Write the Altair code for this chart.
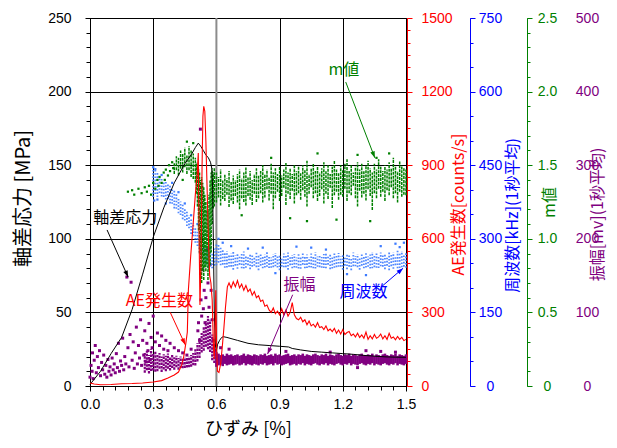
import math
import altair as alt
import pandas as pd

# ---------------- fonts / colours ----------------
FONT_NUM = "Liberation Sans"
FONT_JP = "Noto Sans CJK JP"
BLACK = "#000000"
RED = "#ff0000"
BLUE = "#0000ff"
BLUE_PT = "#3d7bff"
GREEN = "#008000"
PURPLE = "#800080"

# ---------------- axes ticks ----------------
x_ticks = [0.0, 0.3, 0.6, 0.9, 1.2, 1.5]
x_minor = [0.0, 0.06, 0.12, 0.18, 0.24, 0.30, 0.36, 0.42, 0.48, 0.54, 0.60, 0.66, 0.72,
           0.78, 0.84, 0.90, 0.96, 1.02, 1.08, 1.14, 1.20, 1.26, 1.32, 1.38, 1.44, 1.50]
stress_ticks = [0, 50, 100, 150, 200, 250]
stress_minor = list(range(0, 251, 10))
ae_ticks = [0, 300, 600, 900, 1200, 1500]
ae_minor = list(range(0, 1501, 50))
freq_ticks = [0, 150, 300, 450, 600, 750]
freq_minor = list(range(0, 751, 50))
m_ticks = [0, 0.5, 1.0, 1.5, 2.0, 2.5]
m_minor = [0, 0.1, 0.2, 0.3, 0.4, 0.5, 0.6, 0.7, 0.8, 0.9, 1.0, 1.1, 1.2, 1.3, 1.4, 1.5,
           1.6, 1.7, 1.8, 1.9, 2.0, 2.1, 2.2, 2.3, 2.4, 2.5]
amp_ticks = [0, 100, 200, 300, 400, 500]

# ---------------- stress (black line) ----------------
stress_s = [0.0, 0.05, 0.10, 0.15, 0.20, 0.25, 0.30, 0.35, 0.40, 0.45, 0.48, 0.50, 0.514, 0.525,
            0.538, 0.55, 0.562, 0.572, 0.578, 0.582, 0.586, 0.59, 0.595, 0.60, 0.605, 0.615, 0.625,
            0.633, 0.65, 0.70, 0.75, 0.80, 0.85, 0.90, 0.943, 0.96, 1.00, 1.05, 1.10, 1.15, 1.20,
            1.25, 1.30, 1.35, 1.40, 1.45, 1.50]
stress_v = [1, 10, 22, 33, 52, 76, 101, 121, 138, 151, 157, 162, 165, 163,
            160, 157, 155, 152, 148, 135, 95, 50, 28, 24, 28, 31, 33,
            33.5, 33, 31, 29, 28, 27.5, 27, 26.5, 25.5, 24.5, 23.5, 23, 22.5, 22,
            21.5, 20.8, 20.3, 19.8, 19.6, 19.5]

# ---------------- AE counts (red line) ----------------
ae_head_s = [0.0, 0.02, 0.05, 0.10, 0.15, 0.20, 0.25, 0.30, 0.34, 0.37, 0.40, 0.42, 0.435, 0.445,
             0.455, 0.462, 0.467, 0.478, 0.49, 0.50, 0.509, 0.514, 0.518, 0.522, 0.527, 0.532,
             0.536, 0.54, 0.545, 0.55, 0.556, 0.562, 0.568, 0.574, 0.58, 0.586, 0.59, 0.594,
             0.597, 0.601, 0.605, 0.612, 0.62, 0.628, 0.635, 0.643, 0.652, 0.66]
ae_head_v = [12, 8, 5, 6, 9, 10, 12, 16, 22, 33, 45, 57, 85, 120,
             175, 220, 391, 530, 664, 780, 868, 950, 600, 330, 500, 900,
             1100, 1140, 1120, 1000, 800, 600, 450, 420, 350, 160, 110, 250,
             390, 150, 60, 55, 90, 160, 230, 320, 404, 420]
# values every 0.01 % from 0.67 to 1.50
ae_tail_v = [400, 425, 405, 430, 400, 415, 390, 410, 385, 395,
             370, 385, 360, 368, 345, 350, 325, 330, 310, 300,
             318, 295, 305, 290, 315, 290, 310, 285, 300, 340,
             290, 275, 270, 280, 262, 270, 250, 265, 245, 252,
             240, 258, 238, 242, 230, 245, 225, 232, 222, 235,
             215, 228, 212, 230, 210, 218, 222, 205, 212, 200,
             215, 198, 208, 195, 220, 190, 205, 192, 210, 195,
             200, 212, 192, 205, 190, 215, 195, 200, 188, 202,
             190, 198, 185, 190]
ae_tail_s = [round(0.67 + 0.01 * i, 2) for i in range(len(ae_tail_v))]

# ---------------- frequency (blue scatter: spread per strain step) ----------------
blue_pre_s = [0.30, 0.31, 0.32, 0.33, 0.34, 0.35, 0.36, 0.37, 0.38, 0.39,
              0.40, 0.41, 0.42, 0.43, 0.44, 0.45, 0.46, 0.47, 0.48, 0.49,
              0.50, 0.51, 0.52, 0.53, 0.54, 0.55, 0.56, 0.57, 0.58, 0.59]
blue_pre_lo = [385, 388, 385, 390, 386, 382, 380, 378, 372, 368,
               362, 358, 352, 345, 340, 334, 326, 318, 310, 302,
               292, 282, 272, 262, 252, 245, 242, 240, 240, 242]
blue_pre_hi = [446, 440, 435, 428, 422, 418, 416, 412, 408, 404,
               398, 392, 384, 376, 370, 362, 356, 348, 340, 332,
               324, 316, 306, 298, 290, 282, 276, 272, 270, 280]
# after 0.60 %, every 0.01 %
blue_post_lo = [246, 248, 246, 244, 241, 238, 243, 240, 237, 242,
                239, 244, 240, 236, 241, 243, 238, 240, 245, 239,
                236, 242, 240, 238, 243, 237, 241, 239, 244, 238,
                236, 240, 242, 239, 237, 243, 240, 238, 241, 236,
                239, 244, 240, 237, 242, 238, 240, 236, 243, 239,
                241, 237, 240, 244, 238, 236, 241, 239, 243, 240,
                237, 242, 238, 240, 236, 241, 244, 239, 237, 242,
                240, 238, 243, 236, 240, 239, 241, 237, 244, 240,
                238, 242, 236, 241, 239, 243, 240, 237, 242, 240,
                241]
blue_post_hi = [290, 288, 282, 278, 272, 275, 268, 270, 273, 266,
                271, 265, 269, 274, 267, 263, 270, 268, 264, 272,
                266, 270, 263, 268, 273, 265, 262, 269, 271, 264,
                268, 262, 270, 265, 272, 263, 267, 269, 262, 270,
                265, 271, 264, 268, 262, 270, 266, 273, 264, 268,
                263, 269, 272, 265, 268, 262, 270, 266, 271, 264,
                268, 263, 270, 266, 262, 272, 265, 269, 263, 270,
                266, 271, 264, 268, 273, 265, 270, 263, 272, 267,
                270, 265, 274, 268, 272, 266, 277, 270, 275, 268,
                272]
blue_points = [(0.30, 446), (0.305, 378), (0.31, 442), (0.32, 380), (0.34, 430), (0.36, 372),
               (0.39, 414), (0.42, 395), (0.45, 372), (0.48, 348), (0.51, 330), (0.53, 305),
               (0.55, 300), (0.57, 282), (0.61, 300), (0.63, 292), (0.67, 285), (0.75, 280),
               (0.82, 282), (0.88, 230), (0.98, 284), (1.05, 282), (1.12, 278), (1.22, 228),
               (1.31, 226), (1.38, 285), (1.45, 290), (1.47, 283), (1.49, 292)]

# ---------------- m value (green scatter) ----------------
green_pre_s = [0.40, 0.41, 0.42, 0.43, 0.44, 0.45, 0.46, 0.47, 0.48, 0.49, 0.50, 0.505, 0.51,
               0.515, 0.52, 0.525, 0.53, 0.535, 0.54, 0.545, 0.55, 0.555, 0.56, 0.565, 0.57,
               0.575, 0.58, 0.585, 0.59]
green_pre_lo = [1.44, 1.46, 1.43, 1.47, 1.45, 1.48, 1.44, 1.46, 1.42, 1.40, 1.38, 1.30, 1.22,
                1.05, 0.90, 0.75, 0.70, 0.78, 0.72, 0.80, 0.78, 0.82, 0.72, 0.78, 0.82,
                0.90, 1.10, 1.20, 1.22]
green_pre_hi = [1.52, 1.56, 1.55, 1.60, 1.58, 1.62, 1.57, 1.63, 1.60, 1.58, 1.55, 1.52, 1.50,
                1.48, 1.45, 1.40, 1.42, 1.38, 1.35, 1.30, 1.25, 1.20, 1.20, 1.30, 1.40,
                1.45, 1.48, 1.45, 1.48]
green_post_lo = [1.24, 1.28, 1.22, 1.27, 1.25, 1.30, 1.21, 1.26, 1.23, 1.29,
                 1.24, 1.20, 1.27, 1.25, 1.22, 1.29, 1.26, 1.23, 1.30, 1.25,
                 1.27, 1.31, 1.24, 1.28, 1.33, 1.26, 1.30, 1.20, 1.27, 1.32,
                 1.25, 1.29, 1.34, 1.23, 1.30, 1.27, 1.32, 1.24, 1.29, 1.31,
                 1.26, 1.33, 1.28, 1.22, 1.30, 1.35, 1.27, 1.31, 1.25, 1.29,
                 1.33, 1.24, 1.30, 1.27, 1.34, 1.21, 1.29, 1.32, 1.26, 1.30,
                 1.28, 1.34, 1.25, 1.31, 1.29, 1.36, 1.27, 1.22, 1.32, 1.28,
                 1.30, 1.26, 1.33, 1.29, 1.19, 1.31, 1.27, 1.34, 1.28, 1.32,
                 1.25, 1.33, 1.29, 1.35, 1.27, 1.31, 1.24, 1.32, 1.28, 1.30,
                 1.29]
green_post_hi = [1.45, 1.42, 1.47, 1.40, 1.44, 1.41, 1.46, 1.39, 1.43, 1.40,
                 1.44, 1.47, 1.41, 1.45, 1.49, 1.42, 1.46, 1.40, 1.44, 1.48,
                 1.43, 1.46, 1.50, 1.44, 1.47, 1.42, 1.51, 1.45, 1.48, 1.44,
                 1.49, 1.43, 1.47, 1.52, 1.45, 1.48, 1.44, 1.50, 1.46, 1.49,
                 1.45, 1.50, 1.47, 1.53, 1.44, 1.48, 1.51, 1.46, 1.49, 1.45,
                 1.48, 1.52, 1.46, 1.50, 1.44, 1.49, 1.53, 1.47, 1.45, 1.50,
                 1.47, 1.51, 1.54, 1.46, 1.50, 1.45, 1.49, 1.52, 1.47, 1.51,
                 1.46, 1.50, 1.53, 1.48, 1.45, 1.51, 1.47, 1.54, 1.49, 1.46,
                 1.50, 1.47, 1.52, 1.48, 1.55, 1.49, 1.46, 1.53, 1.50, 1.48,
                 1.47]
green_points = [(0.18, 1.32), (0.20, 1.33), (0.21, 1.30), (0.23, 1.34), (0.245, 1.31), (0.26, 1.35),
                (0.27, 1.32), (0.28, 1.36), (0.29, 1.30), (0.30, 1.38), (0.31, 1.34), (0.32, 1.40),
                (0.325, 1.36), (0.33, 1.42), (0.34, 1.38), (0.35, 1.45), (0.355, 1.40), (0.36, 1.47),
                (0.37, 1.43), (0.375, 1.50), (0.38, 1.46), (0.39, 1.52), (0.395, 1.48), (0.44, 1.40),
                (0.46, 1.66), (0.49, 1.65), (0.72, 1.16), (0.86, 1.55), (0.95, 1.14), (1.03, 1.12),
                (1.08, 1.58), (1.17, 1.13), (1.27, 1.57), (1.33, 1.12), (1.36, 1.55), (1.42, 1.58)]

# ---------------- amplitude (purple scatter) ----------------
purple_pre_s = [0.26, 0.27, 0.28, 0.29, 0.30, 0.31, 0.32, 0.33, 0.34, 0.35,
                0.36, 0.37, 0.38, 0.39, 0.40, 0.41, 0.42, 0.43, 0.44, 0.45,
                0.46, 0.47, 0.48, 0.49, 0.50, 0.51, 0.52, 0.53, 0.54, 0.55,
                0.56, 0.57, 0.58, 0.59]
purple_pre_lo = [18, 20, 17, 19, 21, 18, 20, 22, 19, 21,
                 20, 22, 21, 23, 22, 24, 22, 23, 24, 23,
                 25, 24, 26, 27, 28, 32, 38, 44, 48, 52,
                 50, 45, 35, 30]
purple_pre_hi = [45, 48, 42, 50, 44, 47, 42, 45, 40, 43,
                 41, 44, 40, 42, 39, 41, 38, 40, 38, 39,
                 38, 40, 42, 45, 50, 58, 66, 72, 80, 88,
                 95, 90, 70, 50]
purple_post_lo = [26, 28, 29, 27, 30, 28, 29, 30, 28, 29,
                  30, 28, 29, 31, 28, 30, 29, 28, 30, 29,
                  28, 30, 29, 31, 28, 29, 30, 28, 31, 29,
                  30, 28, 29, 30, 31, 28, 29, 30, 28, 30,
                  29, 31, 28, 30, 29, 28, 30, 31, 29, 28,
                  30, 29, 31, 28, 30, 29, 28, 30, 31, 29,
                  28, 30, 29, 31, 28, 30, 29, 28, 30, 31,
                  29, 28, 30, 29, 31, 28, 30, 29, 28, 30,
                  31, 29, 28, 30, 29, 31, 28, 30, 29, 28,
                  30]
purple_post_hi = [46, 44, 42, 43, 41, 44, 42, 43, 41, 42,
                  43, 41, 42, 44, 41, 43, 42, 41, 43, 42,
                  41, 43, 42, 44, 41, 42, 43, 41, 44, 42,
                  43, 41, 42, 43, 44, 41, 42, 43, 41, 43,
                  42, 44, 41, 43, 42, 41, 43, 44, 42, 41,
                  43, 42, 44, 41, 43, 42, 41, 43, 44, 42,
                  41, 43, 42, 44, 41, 43, 42, 41, 43, 44,
                  42, 41, 43, 42, 44, 41, 43, 42, 41, 43,
                  44, 42, 41, 43, 42, 44, 41, 43, 42, 41,
                  43]
purple_points = [(0.00, 12), (0.005, 28), (0.01, 20), (0.012, 45), (0.015, 10), (0.02, 35), (0.025, 55),
                 (0.03, 18), (0.035, 40), (0.04, 25), (0.045, 48), (0.05, 14), (0.055, 32), (0.06, 22),
                 (0.065, 42), (0.07, 16), (0.075, 28), (0.08, 12), (0.085, 36), (0.09, 20), (0.095, 26),
                 (0.10, 15), (0.105, 38), (0.11, 22), (0.115, 30), (0.12, 18), (0.125, 44), (0.13, 25),
                 (0.135, 58), (0.14, 20), (0.145, 34), (0.15, 28), (0.155, 65), (0.16, 22), (0.165, 40),
                 (0.17, 30), (0.175, 148), (0.18, 52), (0.185, 26), (0.19, 70), (0.195, 141), (0.20, 35),
                 (0.205, 60), (0.21, 24), (0.215, 45), (0.22, 80), (0.225, 30), (0.23, 55), (0.235, 38),
                 (0.24, 90), (0.245, 28), (0.25, 62), (0.255, 42), (0.26, 75), (0.265, 33), (0.27, 58),
                 (0.275, 48), (0.28, 85), (0.285, 36), (0.29, 66), (0.295, 52), (0.30, 95), (0.31, 60),
                 (0.32, 72), (0.33, 55), (0.34, 68), (0.35, 50), (0.36, 62), (0.37, 48), (0.38, 58),
                 (0.40, 52), (0.42, 48), (0.44, 45), (0.46, 42), (0.48, 50),
                 (0.512, 75), (0.515, 86), (0.52, 62), (0.524, 349), (0.527, 117), (0.53, 95),
                 (0.535, 158), (0.538, 105), (0.542, 130), (0.546, 86), (0.55, 120), (0.555, 185),
                 (0.56, 140), (0.565, 107), (0.57, 165), (0.575, 130), (0.58, 90), (0.585, 62),
                 (0.59, 55), (0.595, 48), (0.62, 52), (0.66, 50), (0.93, 47), (1.14, 46),
                 (1.27, 25), (1.31, 48), (1.38, 47), (1.45, 46)]

# ---------------- annotations (in stress-axis units) ----------------
notes = [("軸差応力", 0.167, 114, BLACK), ("AE発生数", 0.329, 58, RED),
         ("振幅", 0.995, 68.6, PURPLE), ("周波数", 1.298, 64, BLUE), ("m値", 1.205, 214.7, GREEN)]
arrows = [(0.081, 106, 0.181, 74, BLACK), (0.381, 50, 0.452, 28, RED),
          (0.962, 62, 0.843, 21.7, PURPLE), (1.38, 67, 1.486, 80, BLUE),
          (1.214, 206.5, 1.352, 155, GREEN)]

# ---------------- geometry ----------------
W, H = 316, 368
post_s = [round(0.60 + 0.01 * i, 2) for i in range(len(blue_post_lo))]


def X(field="s", axis=None):
    return alt.X(f"{field}:Q", scale=alt.Scale(domain=[0, 1.5], nice=False, zero=False), axis=axis)


def Y(field, dom, axis=None):
    return alt.Y(f"{field}:Q", scale=alt.Scale(domain=dom, nice=False, zero=False), axis=axis)


def right_axis(values, color, offset, title, title_x, title_y, pad, align,
               tick=5, show_domain=True, label_expr=None, fmt=None):
    kw = dict(orient="right", values=values, offset=offset, grid=False,
              domain=show_domain, domainColor=color, domainWidth=1,
              ticks=tick > 0, tickColor=color, tickSize=tick,
              labelColor=color, labelFont=FONT_NUM, labelFontSize=14, labelPadding=pad,
              labelAlign=align, labelBaseline="middle", labelFlush=False, labelOverlap=False,
              title=title, titleFont=FONT_JP, titleFontSize=16, titleFontWeight="normal",
              titleColor=color, titleAngle=270, titleAlign="center", titleBaseline="middle",
              titleX=title_x, titleY=title_y)
    if label_expr:
        kw["labelExpr"] = label_expr
    if fmt:
        kw["format"] = fmt
    return alt.Axis(**kw)


def minor_axis(orient, values, color, offset=0, size=3):
    return alt.Axis(orient=orient, values=values, offset=offset, grid=False, domain=False,
                    labels=False, ticks=True, tickColor=color, tickSize=size, title=None)


ax_x = alt.Axis(orient="bottom", values=x_ticks, format=".1f", grid=True, gridColor=BLACK,
                gridOpacity=1, gridWidth=1, domainColor=BLACK, tickColor=BLACK, tickSize=5,
                labelColor=BLACK, labelFont=FONT_NUM, labelFontSize=14, labelPadding=6,
                labelFlush=False, labelOverlap=False, title="ひずみ [%]", titleFont=FONT_JP,
                titleFontSize=18, titleFontWeight="normal", titleColor=BLACK,
                titleBaseline="middle", titleY=43)
ax_stress = alt.Axis(orient="left", values=stress_ticks, grid=True, gridColor=BLACK,
                     gridOpacity=1, gridWidth=1, domainColor=BLACK, tickColor=BLACK,
                     tickSize=5, labelColor=BLACK, labelFont=FONT_NUM, labelFontSize=14,
                     labelPadding=14, labelFlush=False, labelOverlap=False,
                     title="軸差応力 [MPa]", titleFont=FONT_JP, titleFontSize=20,
                     titleFontWeight="normal", titleColor=BLACK, titleAngle=270,
                     titleAlign="center", titleBaseline="middle", titleX=-67, titleY=180)
ax_ae = right_axis(ae_ticks, RED, 1, "AE発生数[counts/s]", 51, 186, 9, "left", fmt="d")
ax_freq = right_axis(freq_ticks, BLUE, 64, "周波数[kHz](1秒平均)", 42, 197, 15, "center", fmt="d")
ax_m = right_axis(m_ticks, GREEN, 121, "m値", 22, 184, 15, "center",
                  label_expr="datum.value == 0 ? '0' : format(datum.value, '.1f')")
ax_amp = right_axis(amp_ticks, PURPLE, 159, "振幅[mv](1秒平均)", 32, 196, 22, "center",
                    tick=0, show_domain=False, fmt="d")

dummy = pd.DataFrame({"s": [0.0], "v": [0.0]})


def tick_layer(dom, yaxis=None, xaxis=None):
    return alt.Chart(dummy).mark_point(opacity=0).encode(x=X("s", xaxis), y=Y("v", dom, yaxis))


def band_layers(df, dom, axis, color, width, dash, opacity):
    """Scatter clouds drawn as short dotted vertical strokes, alternate columns offset."""
    even = df.iloc[::2]
    odd = df.iloc[1::2]
    out = []
    for k, part in enumerate((even, odd)):
        mk = dict(color=color, strokeWidth=width, opacity=opacity)
        if dash:
            mk["strokeDash"] = dash
            mk["strokeDashOffset"] = 0 if k == 0 else dash[0]
        out.append(alt.Chart(part).mark_rule(**mk)
                   .encode(x=X("s"), y=Y("lo", dom, axis if k == 0 else None),
                           y2=alt.Y2("hi:Q")))
    return out


layers = []

# grey vertical line at 0.6
layers.append(alt.Chart(pd.DataFrame({"s": [0.6]})).mark_rule(color="#8c8c8c", strokeWidth=2)
              .encode(x=X("s")))

# minor ticks
layers.append(tick_layer([0, 250], xaxis=minor_axis("bottom", x_minor, BLACK, size=4)))
layers.append(tick_layer([0, 250], yaxis=minor_axis("left", stress_minor, BLACK, size=4)))
layers.append(tick_layer([0, 1500], yaxis=minor_axis("right", ae_minor, RED, offset=1, size=3)))
layers.append(tick_layer([0, 750], yaxis=minor_axis("right", freq_minor, BLUE, offset=64, size=3)))
layers.append(tick_layer([0, 2.5], yaxis=minor_axis("right", m_minor, GREEN, offset=121, size=3)))

# purple amplitude
purple_pre = pd.DataFrame({"s": purple_pre_s, "lo": purple_pre_lo, "hi": purple_pre_hi})
purple_post = pd.DataFrame({"s": post_s, "lo": purple_post_lo, "hi": purple_post_hi})
layers += band_layers(purple_pre, [0, 500], ax_amp, PURPLE, 2.2, [2.5, 1.0], 1)
layers += band_layers(purple_post, [0, 500], None, PURPLE, 2.6, None, 1)
layers.append(alt.Chart(pd.DataFrame(purple_points, columns=["s", "v"]))
              .mark_square(color=PURPLE, size=9, opacity=1)
              .encode(x=X("s"), y=Y("v", [0, 500])))

# blue frequency
blue_band = pd.DataFrame({"s": blue_pre_s + post_s,
                          "lo": blue_pre_lo + blue_post_lo,
                          "hi": blue_pre_hi + blue_post_hi})
layers += band_layers(blue_band, [0, 750], ax_freq, BLUE_PT, 1.8, [1.6, 1.6], 0.9)
layers.append(alt.Chart(pd.DataFrame(blue_points, columns=["s", "v"]))
              .mark_square(color=BLUE_PT, size=5, opacity=1)
              .encode(x=X("s"), y=Y("v", [0, 750])))

# green m value
green_band = pd.DataFrame({"s": green_pre_s + post_s,
                           "lo": green_pre_lo + green_post_lo,
                           "hi": green_pre_hi + green_post_hi})
layers += band_layers(green_band, [0, 2.5], ax_m, GREEN, 1.5, [3, 0.9], 1)
layers.append(alt.Chart(pd.DataFrame(green_points, columns=["s", "v"]))
              .mark_square(color=GREEN, size=5, opacity=1)
              .encode(x=X("s"), y=Y("v", [0, 2.5])))

# stress line
layers.append(alt.Chart(pd.DataFrame({"s": stress_s, "v": stress_v}))
              .mark_line(color=BLACK, strokeWidth=1)
              .encode(x=X("s", ax_x), y=Y("v", [0, 250], ax_stress)))

# AE line
ae_df = pd.DataFrame({"s": ae_head_s + ae_tail_s, "v": ae_head_v + ae_tail_v})
layers.append(alt.Chart(ae_df).mark_line(color=RED, strokeWidth=1.1)
              .encode(x=X("s"), y=Y("v", [0, 1500], ax_ae)))

# annotations
px_x = W / 1.5
px_y = H / 250.0
arrow_rows = []
for s1, v1, s2, v2, c in arrows:
    ang = math.degrees(math.atan2((s2 - s1) * px_x, (v2 - v1) * px_y)) % 360
    arrow_rows.append({"s": s1, "v": v1, "s2": s2, "v2": v2, "c": c, "ang": ang})
arrow_df = pd.DataFrame(arrow_rows)
layers.append(alt.Chart(arrow_df).mark_rule(strokeWidth=1)
              .encode(x=X("s"), y=Y("v", [0, 250]), x2=alt.X2("s2:Q"), y2=alt.Y2("v2:Q"),
                      color=alt.Color("c:N", scale=None)))
layers.append(alt.Chart(arrow_df)
              .mark_point(shape="M0,0L0.36,1L-0.36,1Z", filled=True, size=170, opacity=1,
                          strokeWidth=0)
              .encode(x=X("s2"), y=Y("v2", [0, 250]), angle=alt.Angle("ang:Q", scale=None),
                      color=alt.Color("c:N", scale=None)))
note_df = pd.DataFrame(notes, columns=["t", "s", "v", "c"])
layers.append(alt.Chart(note_df)
              .mark_text(font=FONT_JP, fontSize=16, align="center", baseline="middle")
              .encode(x=X("s"), y=Y("v", [0, 250]), text="t:N",
                      color=alt.Color("c:N", scale=None)))

chart = (alt.layer(*layers)
         .resolve_scale(x="independent", y="independent")
         .properties(width=W, height=H,
                     padding={"left": 82, "top": 10, "right": 203, "bottom": 54},
                     autosize=alt.AutoSizeParams(type="none"),
                     background="white")
         .configure_view(stroke=BLACK, strokeWidth=1))

chart.save("out.html", embed_options={"renderer": "svg", "actions": False})
